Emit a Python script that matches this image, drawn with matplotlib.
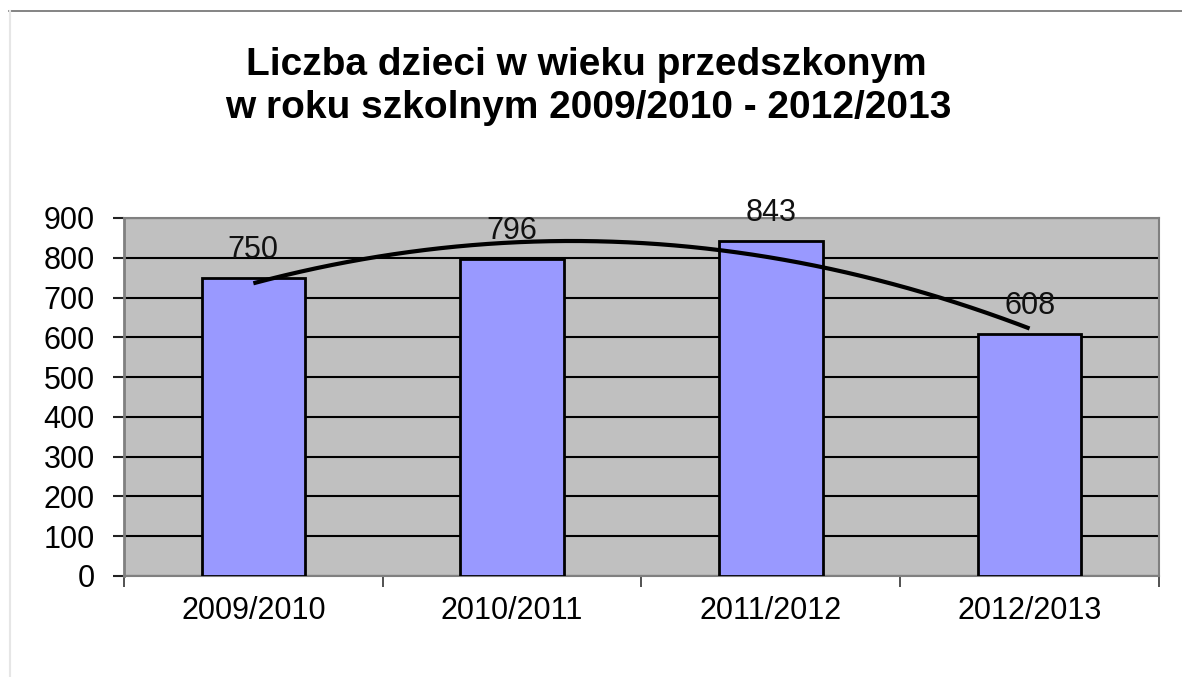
import numpy as np
import matplotlib.pyplot as plt
from matplotlib.lines import Line2D

plt.rcParams['font.family'] = ['Liberation Sans', 'DejaVu Sans']

# data
years = ["2009/2010", "2010/2011", "2011/2012", "2012/2013"]
children = [750, 796, 843, 608]
yticks = [0, 100, 200, 300, 400, 500, 600, 700, 800, 900]

fig = plt.figure(figsize=(11.82, 6.77), dpi=100)
ax = fig.add_axes([0.1049, 0.1492, 0.8756, 0.5288])
ax.set_facecolor("#c0c0c0")

x = np.arange(len(years))
ax.bar(x, children, width=0.4, color="#9999ff", edgecolor="black", linewidth=2, zorder=3)

# 2nd order polynomial trendline
coef = np.polyfit(x, children, 2)
xs = np.linspace(x[0], x[-1], 200)
ax.plot(xs, np.polyval(coef, xs), color="black", lw=3, zorder=4, solid_capstyle="butt")

for xi, v in zip(x, children):
    ax.annotate(str(v), (xi, v), xytext=(0, 14.5), textcoords="offset points",
                ha="center", va="baseline", fontsize=22, color="#111111", zorder=5)

ax.set_xlim(-0.5, len(years) - 0.5)
ax.set_ylim(0, 900)
ax.set_yticks(yticks)
ax.set_yticklabels([str(t) for t in yticks], fontsize=22)
ax.set_xticks(x)
ax.set_xticklabels(years, fontsize=22)
ax.set_xticks(np.arange(len(years) + 1) - 0.5, minor=True)
ax.tick_params(axis="x", which="major", length=0, pad=14.5)
ax.tick_params(axis="x", which="minor", length=8, width=1.2, color="#333333", direction="out")
ax.tick_params(axis="y", length=8, width=1.5, pad=13, color="#222222", direction="out")
ax.grid(axis="y", color="black", lw=1.5, zorder=1)
ax.set_axisbelow(True)

for s in ax.spines.values():
    s.set_color("#808080")
    s.set_linewidth(1.5)
ax.spines["left"].set_linewidth(2)

fig.text(0.496, 1 - 75 / 677, "Liczba dzieci w wieku przedszkonym", ha="center", va="baseline",
         fontsize=28, fontweight="bold")
fig.text(0.498, 1 - 118 / 677, "w roku szkolnym 2009/2010 - 2012/2013", ha="center", va="baseline",
         fontsize=28, fontweight="bold")

# outer frame lines
fig.add_artist(Line2D([9 / 1182, 1], [1 - 11 / 677, 1 - 11 / 677], color="#707070", lw=1.2))
fig.add_artist(Line2D([10 / 1182, 10 / 1182], [0, 1 - 11 / 677], color="#e6e6e6", lw=1.5))

fig.savefig("out.png", dpi=100)
